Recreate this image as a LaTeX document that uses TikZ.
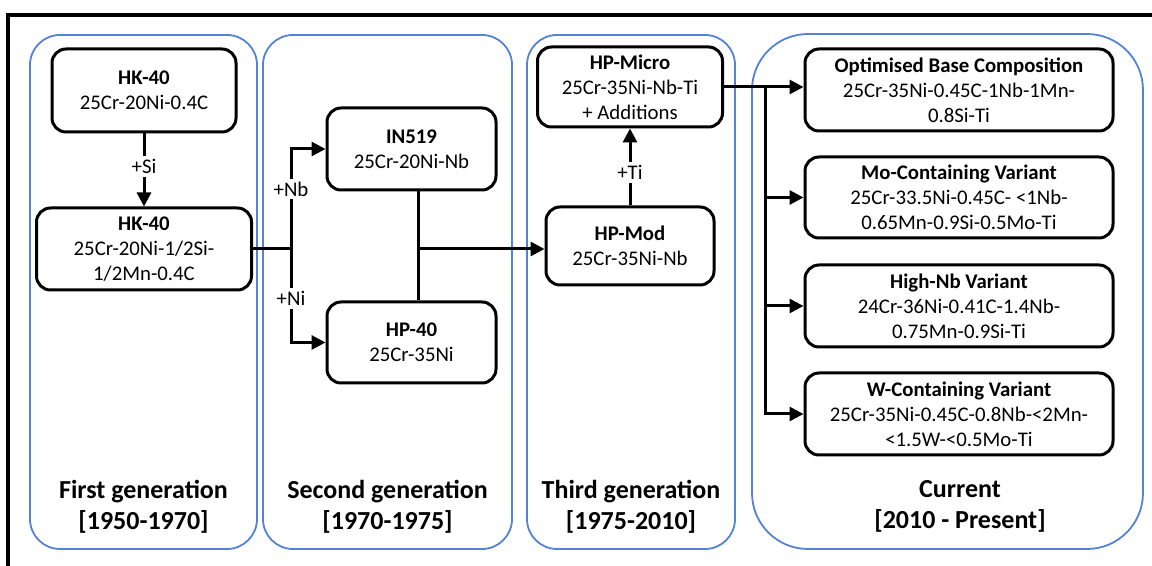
\documentclass[tikz,border=0pt]{standalone}
\usepackage{fontspec}
\setmainfont{Carlito}
\usetikzlibrary{positioning,arrows.meta}
\definecolor{panelblue}{RGB}{84,130,212}

\begin{document}
\begin{tikzpicture}[x=0.5pt, y=-0.5pt, node distance=36.5pt,
  every node/.style={font=\fontsize{10.4}{12.6}\selectfont},
  alloy/.style={draw, line width=1.5pt, rounded corners=7pt, align=center, inner sep=0pt},
  gen/.style={draw=panelblue, line width=0.9pt},
  link/.style={line width=1.5pt},
  flow/.style={link, -{Triangle[length=7pt,width=7pt]}},
  lbl/.style={fill=white, inner sep=1.5pt},
  era/.style={align=center, font=\fontsize{13}{15.5}\selectfont\bfseries}]
  \useasboundingbox (0,0) rectangle (1152,566);
  \draw[line width=1.6pt] (1152,15) -- (8,15) -- (8,566);

  % generation panels
  \draw[gen, rounded corners=15pt] (30,35) rectangle (257,549);
  \draw[gen, rounded corners=15pt] (263,35) rectangle (512,549);
  \draw[gen, rounded corners=15pt] (527,35) rectangle (735,549);
  \draw[gen, rounded corners=28pt] (752,34) rectangle (1143,549);

  \node[era] (first) at (143.5,507) {First generation\\{[1950-1970]}};
  \node[era] (second) at (387.5,507) {Second generation\\{[1970-1975]}};
  \node[era] (third) at (631,507) {Third generation\\{[1975-2010]}};
  \node[era] (current) at (960,506) {Current\\{[2010 - Present]}};

  % alloys
  \node[alloy, minimum width=92pt, minimum height=41.5pt] (hk1) at (144,90.5) {\textbf{HK-40}\\25Cr-20Ni-0.4C};
  \node[alloy, minimum width=107.5pt, minimum height=41pt, below=of hk1] (hk2) {\textbf{HK-40}\\25Cr-20Ni-1/2Si-\\1/2Mn-0.4C};
  \node[alloy, minimum width=84.5pt, minimum height=41pt] (in519) at (411.5,149) {\textbf{IN519}\\25Cr-20Ni-Nb};
  \node[alloy, minimum width=84.5pt, minimum height=40.5pt] (hp40) at (411.5,342.5) {\textbf{HP-40}\\25Cr-35Ni};
  \node[alloy, minimum width=84pt, minimum height=39pt] (hpmod) at (630,246) {\textbf{HP-Mod}\\25Cr-35Ni-Nb};
  \node[alloy, minimum width=92.5pt, minimum height=40pt, above=38.5pt of hpmod] (hpmicro) {\textbf{HP-Micro}\\25Cr-35Ni-Nb-Ti\\+ Additions};
  \node[alloy, minimum width=154pt, minimum height=41pt] (opt) at (959,90) {\textbf{Optimised Base Composition}\\25Cr-35Ni-0.45C-1Nb-1Mn-\\0.8Si-Ti};
  \node[alloy, minimum width=154pt, minimum height=40.5pt] (movar) at (959,197.5) {\textbf{Mo-Containing Variant}\\25Cr-33.5Ni-0.45C- <1Nb-\\0.65Mn-0.9Si-0.5Mo-Ti};
  \node[alloy, minimum width=154pt, minimum height=41pt] (nbvar) at (959,306) {\textbf{High-Nb Variant}\\24Cr-36Ni-0.41C-1.4Nb-\\0.75Mn-0.9Si-Ti};
  \node[alloy, minimum width=154pt, minimum height=41pt] (wvar) at (959,414) {\textbf{W-Containing Variant}\\25Cr-35Ni-0.45C-0.8Nb-<2Mn-\\<1.5W-<0.5Mo-Ti};

  % connectors
  \coordinate (split) at ([xshift=19pt]hk2.east);
  \coordinate (merge) at (hk2.east -| 418,0);
  \coordinate (fan) at ([xshift=20.5pt]hpmicro.east);
  \draw[flow] (hk1) -- node[lbl, pos=0.45] {+Si} (hk2);
  \draw[link] (hk2.east) -- (split);
  \draw[flow] (split) -- node[lbl, pos=0.6] {+Nb} (split |- in519.west) -- (in519.west);
  \draw[flow] (split) -- node[lbl, pos=0.53] {+Ni} (split |- hp40.west) -- (hp40.west);
  \draw[link] (in519.south -| merge) -- (hp40.north -| merge);
  \draw[flow] (merge) -- (merge -| hpmod.west);
  \draw[flow] (hpmod) -- node[lbl, pos=0.43] {+Ti} (hpmicro);
  \draw[link] (hpmicro.east) -- (fan);
  \draw[flow] (fan) -- (fan -| opt.west);
  \draw[flow] (fan) |- (wvar.west);
  \draw[flow] (fan |- movar.west) -- (movar.west);
  \draw[flow] (fan |- nbvar.west) -- (nbvar.west);
\end{tikzpicture}
\end{document}
